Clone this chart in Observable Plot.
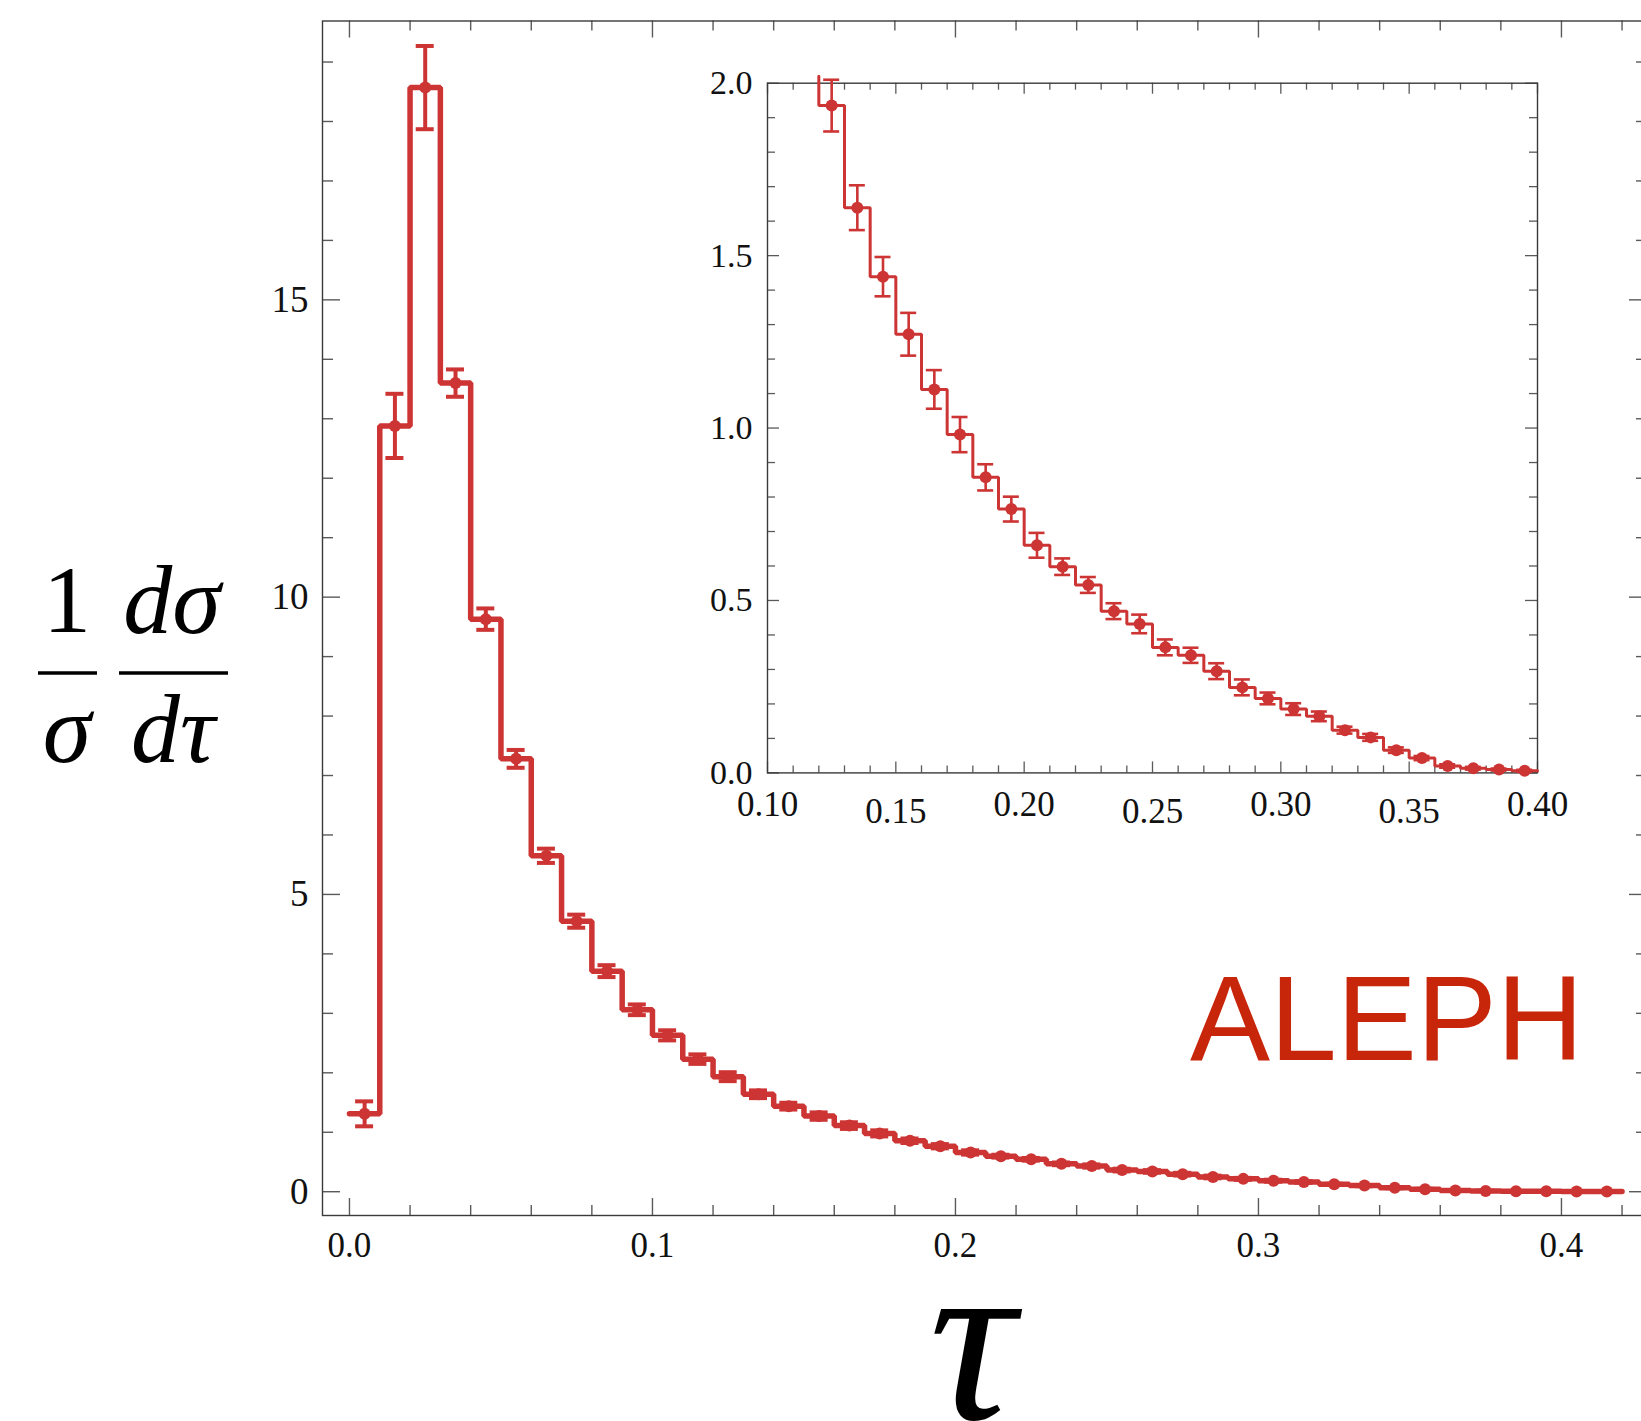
<!DOCTYPE html>
<html>
<head>
<meta charset="utf-8">
<script src="https://cdn.jsdelivr.net/npm/d3@7"></script>
<script src="https://cdn.jsdelivr.net/npm/@observablehq/plot@0.6"></script>
<style>
  html, body { margin: 0; padding: 0; background: #ffffff; }
  #wrap { position: relative; width: 1641px; height: 1421px; overflow: hidden; background: #ffffff; }
  #wrap svg { position: absolute; }
</style>
</head>
<body>
<div id="wrap"></div>
<script>
// ---------------- DATA ----------------
// bin edges of the tau (= 1 - T) histogram
const binEdges = [0.00, 0.01, 0.02, 0.03, 0.04, 0.05, 0.06, 0.07, 0.08, 0.09,
                  0.10, 0.11, 0.12, 0.13, 0.14, 0.15, 0.16, 0.17, 0.18, 0.19,
                  0.20, 0.21, 0.22, 0.23, 0.24, 0.25, 0.26, 0.27, 0.28, 0.29,
                  0.30, 0.31, 0.32, 0.33, 0.34, 0.35, 0.36, 0.37, 0.38, 0.39,
                  0.40, 0.41, 0.42];
// (1/sigma) dsigma/dtau per bin
const dsigma = [1.31, 12.88, 18.57, 13.60, 9.63, 7.28, 5.65, 4.55, 3.71, 3.06,
                2.63, 2.23, 1.935, 1.639, 1.439, 1.272, 1.112, 0.981, 0.857, 0.765,
                0.660, 0.598, 0.545, 0.469, 0.432, 0.364, 0.341, 0.295, 0.248, 0.216,
                0.185, 0.164, 0.124, 0.103, 0.066, 0.043, 0.020, 0.0135, 0.0097, 0.006,
                0.004, 0.003];
// error bar half-lengths per bin
const errors = [0.21, 0.54, 0.70, 0.23, 0.18, 0.15, 0.12, 0.11, 0.10, 0.09,
                0.085, 0.08, 0.075, 0.065, 0.057, 0.062, 0.056, 0.051, 0.038, 0.036,
                0.036, 0.024, 0.023, 0.023, 0.027, 0.023, 0.022, 0.023, 0.023, 0.017,
                0.017, 0.014, 0.010, 0.010, 0.008, 0.006, 0.005, 0.004, 0.003, 0.003,
                0.002, 0.002];

// tick values / labels
const mainXTicks = [0.0, 0.1, 0.2, 0.3, 0.4];
const mainYTicks = [0, 5, 10, 15];
const insetXTicks = [0.10, 0.15, 0.20, 0.25, 0.30, 0.35, 0.40];
const insetYTicks = [0.0, 0.5, 1.0, 1.5, 2.0];

const experiment = "ALEPH";

// ---------------- STYLE ----------------
const red = "#cd3434";
const frameColor = "#3a3a3a";
const tickColor = "#5a5a5a";
const serif = "'Liberation Serif', 'Times New Roman', serif";

const rows = dsigma.map((v, i) => ({
  lo: binEdges[i], hi: binEdges[i + 1], x: (binEdges[i] + binEdges[i + 1]) / 2, y: v, e: errors[i]
}));
const stepPts = rs => rs.flatMap(r => [{x: r.lo, y: r.y}, {x: r.hi, y: r.y}]);
const minor = (lo, hi, step, majors) =>
  d3.range(Math.round(lo / step), Math.round(hi / step) + 1).map(k => +(k * step).toFixed(6))
    .filter(v => !majors.some(m => Math.abs(m - v) < 1e-9));

function tickRules(xMaj, xMin, yMaj, yMin, innerW, innerH, lx, sx, ly, sy, sw) {
  const o = {stroke: tickColor, strokeWidth: sw};
  return [
    Plot.ruleX(xMaj, {...o, insetTop: innerH - lx}),
    Plot.ruleX(xMin, {...o, insetTop: innerH - sx}),
    Plot.ruleX(xMaj, {...o, insetBottom: innerH - lx}),
    Plot.ruleX(xMin, {...o, insetBottom: innerH - sx}),
    Plot.ruleY(yMaj, {...o, insetRight: innerW - ly}),
    Plot.ruleY(yMin, {...o, insetRight: innerW - sy}),
    Plot.ruleY(yMaj, {...o, insetLeft: innerW - ly}),
    Plot.ruleY(yMin, {...o, insetLeft: innerW - sy})
  ];
}

// ---------------- MAIN PLOT ----------------
const W = 1641, H = 1421;
const M = {left: 322, top: 20.5, right: -6, bottom: 206};
const xDom = [-0.0089, 0.4284], yDom = [-0.40, 19.69];
const innerW = W - M.left - M.right, innerH = H - M.top - M.bottom;
const capMain = 9 * (xDom[1] - xDom[0]) / innerW;

const main = Plot.plot({
  width: W, height: H,
  marginLeft: M.left, marginTop: M.top, marginRight: M.right, marginBottom: M.bottom,
  x: {domain: xDom, axis: null},
  y: {domain: yDom, axis: null},
  style: {fontFamily: serif, background: "transparent", overflow: "visible"},
  marks: [
    ...tickRules(mainXTicks, minor(0, 0.42, 0.02, mainXTicks), mainYTicks, minor(0, 19, 1, mainYTicks),
                 innerW, innerH, 17, 10, 18, 11, 1.4),
    Plot.frame({stroke: frameColor, strokeWidth: 1.4}),
    Plot.line(stepPts(rows), {x: "x", y: "y", stroke: red, strokeWidth: 5.5, strokeLinejoin: "miter"}),
    Plot.ruleX(rows, {x: "x", y1: d => d.y - d.e, y2: d => d.y + d.e, stroke: red, strokeWidth: 4}),
    Plot.ruleY(rows, {y: d => d.y + d.e, x1: d => d.x - capMain, x2: d => d.x + capMain, stroke: red, strokeWidth: 4}),
    Plot.ruleY(rows, {y: d => d.y - d.e, x1: d => d.x - capMain, x2: d => d.x + capMain, stroke: red, strokeWidth: 4}),
    Plot.dot(rows, {x: "x", y: "y", r: 6, fill: red}),
    Plot.text(mainXTicks, {x: d => d, frameAnchor: "bottom", dy: 41.5, text: d => d.toFixed(1),
                           fontSize: 35, fill: "#111"}),
    Plot.text(mainYTicks, {y: d => d, frameAnchor: "left", dx: -14, textAnchor: "end", text: d => String(d),
                           fontSize: 37, fill: "#111"})
  ]
});
main.style.left = "0px";
main.style.top = "0px";

// axis labels & annotation
const s = d3.select(main);
const lab = (x, y, txt, size, italic, anchor = "middle", family = serif, fill = "#000") =>
  s.append("text").attr("x", x).attr("y", y).attr("text-anchor", anchor)
   .style("font-family", family).style("font-size", size + "px")
   .style("font-style", italic ? "italic" : "normal").attr("fill", fill).text(txt);
lab(67, 632, "1", 96, false);
lab(67, 762, "σ", 98, true);
lab(172, 633, "dσ", 98, true);
lab(173, 762, "dτ", 98, true);
s.append("line").attr("x1", 38).attr("x2", 97).attr("y1", 673).attr("y2", 673).attr("stroke", "#000").attr("stroke-width", 3.5);
s.append("line").attr("x1", 119).attr("x2", 228).attr("y1", 673).attr("y2", 673).attr("stroke", "#000").attr("stroke-width", 3.5);
lab(972, 1419, "τ", 240, true);
lab(1190, 1060, experiment, 120, false, "start", "'Liberation Sans', Arial, sans-serif", "#c8260a");

// ---------------- INSET ----------------
const IW = 920, IH = 780;
const IM = {left: 100, top: 22.7, right: 50, bottom: 67.6};
const ixDom = [0.10, 0.40], iyDom = [0, 2];
const iInnerW = IW - IM.left - IM.right, iInnerH = IH - IM.top - IM.bottom;
const capIn = 8 * (ixDom[1] - ixDom[0]) / iInnerW;
const insetRows = rows.filter(r => r.lo >= ixDom[0] - 1e-9 && r.hi <= ixDom[1] + 1e-9 && r.y <= iyDom[1]);
const insetStep = [{x: insetRows[0].lo, y: iyDom[1] * 1.01}, ...stepPts(insetRows)];

const inset = Plot.plot({
  width: IW, height: IH,
  marginLeft: IM.left, marginTop: IM.top, marginRight: IM.right, marginBottom: IM.bottom,
  x: {domain: ixDom, axis: null},
  y: {domain: iyDom, axis: null},
  style: {fontFamily: serif, background: "transparent", overflow: "visible"},
  marks: [
    ...tickRules(insetXTicks, minor(0.10, 0.40, 0.01, insetXTicks), insetYTicks, minor(0, 2, 0.1, insetYTicks),
                 iInnerW, iInnerH, 11, 7, 12, 8, 1.3),
    Plot.frame({stroke: frameColor, strokeWidth: 1.4}),
    Plot.line(insetStep, {x: "x", y: "y", stroke: red, strokeWidth: 3, strokeLinejoin: "miter"}),
    Plot.ruleX(insetRows, {x: "x", y1: d => d.y - d.e, y2: d => d.y + d.e, stroke: red, strokeWidth: 2.6}),
    Plot.ruleY(insetRows, {y: d => d.y + d.e, x1: d => d.x - capIn, x2: d => d.x + capIn, stroke: red, strokeWidth: 2.6}),
    Plot.ruleY(insetRows, {y: d => d.y - d.e, x1: d => d.x - capIn, x2: d => d.x + capIn, stroke: red, strokeWidth: 2.6}),
    Plot.dot(insetRows, {x: "x", y: "y", r: 6, fill: red}),
    Plot.text(insetXTicks.filter((d, i) => i % 2 === 0), {x: d => d, frameAnchor: "bottom", dy: 43.5,
              text: d => d.toFixed(2), fontSize: 35, fill: "#111"}),
    Plot.text(insetXTicks.filter((d, i) => i % 2 === 1), {x: d => d, frameAnchor: "bottom", dy: 50.5,
              text: d => d.toFixed(2), fontSize: 35, fill: "#111"}),
    Plot.text(insetYTicks, {y: d => d, frameAnchor: "left", dx: -15, textAnchor: "end", text: d => d.toFixed(1),
              fontSize: 34, fill: "#111"})
  ]
});
inset.style.left = "667px";
inset.style.top = "60px";

const wrap = document.getElementById("wrap");
wrap.appendChild(main);
wrap.appendChild(inset);
</script>
</body>
</html>
